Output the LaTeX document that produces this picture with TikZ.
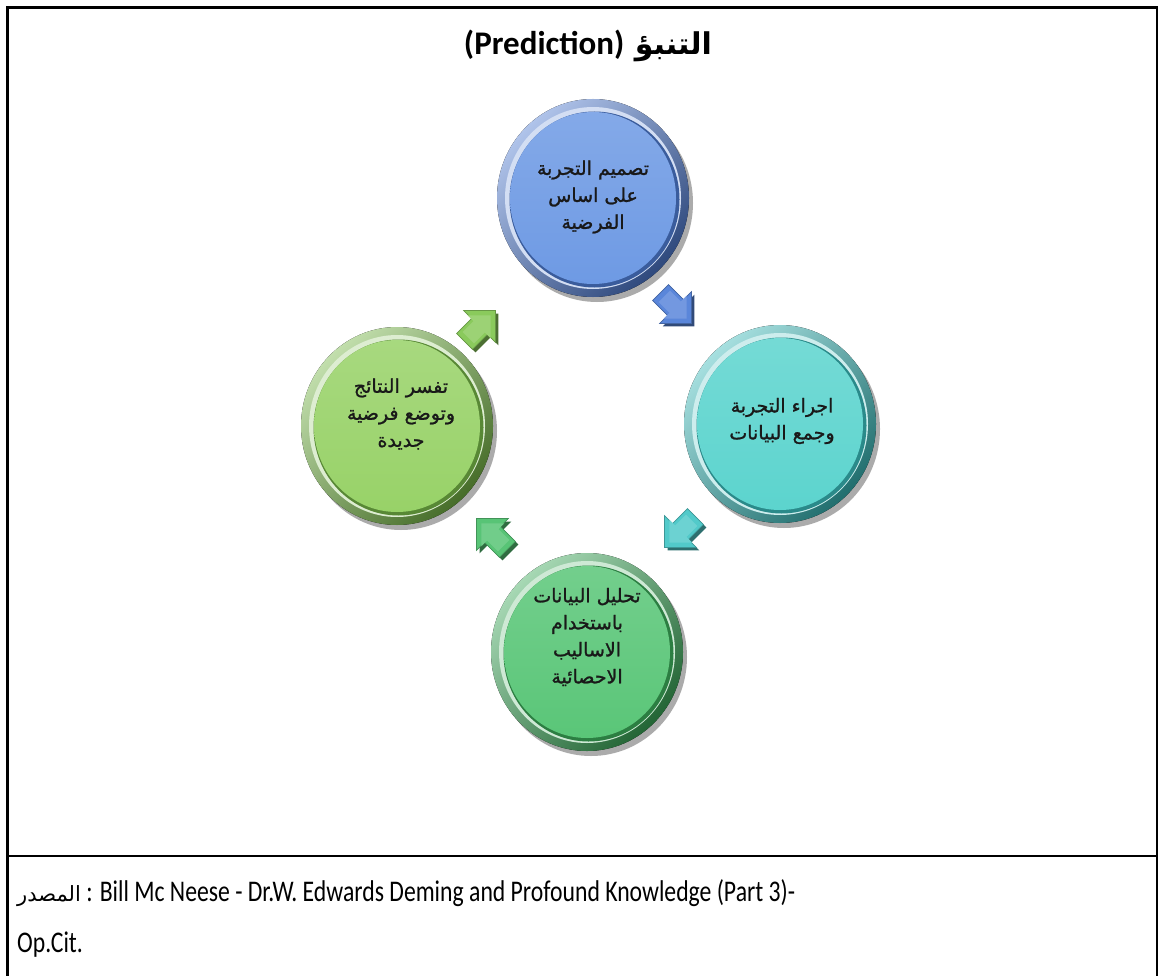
\documentclass[tikz,border=0pt]{standalone}
\usepackage{fontspec}
\usetikzlibrary{shapes.geometric,calc}
\TeXXeTstate=1
\newfontfamily\arabicfont[Script=Arabic]{DejaVu Sans}
\newfontfamily\circlefont[Script=Arabic, FakeBold=1.2]{DejaVu Sans}
\newfontfamily\titlefont{Carlito}
\newfontfamily\footfont[FakeStretch=0.79]{Carlito}
\definecolor{rimB}{RGB}{78,122,208}
\definecolor{faceB}{RGB}{110,154,228}
\definecolor{arrB}{RGB}{90,134,218}
\definecolor{rimT}{RGB}{56,184,184}
\definecolor{faceT}{RGB}{92,212,206}
\definecolor{arrT}{RGB}{82,202,202}
\definecolor{rimG}{RGB}{58,168,88}
\definecolor{faceG}{RGB}{90,198,120}
\definecolor{arrG}{RGB}{88,196,118}
\definecolor{rimL}{RGB}{118,182,70}
\definecolor{faceL}{RGB}{152,210,104}
\definecolor{arrL}{RGB}{138,202,92}
\tikzset{
  frameline/.style={line width=2.5pt, black},
  face/.style={ellipse, minimum width=166pt, minimum height=172pt, inner sep=0pt},
  circtext/.style={align=center, text=black!90, inner sep=0pt,
    font=\circlefont\fontsize{19}{27}\selectfont},
  shadowell/.style={fill=black!60, opacity=0.55},
}
\newcommand{\bubblebase}[2]{%
  \fill[shadowell] ($(#1)+(4,5)$) ellipse [x radius=96pt, y radius=99pt];
  \fill[top color=#2!45!white, bottom color=#2!60!black, shading angle=45]
    (#1) ellipse [x radius=96pt, y radius=99pt];
  \fill[#2!25!white] (#1) ellipse [x radius=88pt, y radius=91pt];
  \fill[#2!75!black] ($(#1)+(1.5,1.5)$) ellipse [x radius=85pt, y radius=88pt];
}
\newcommand{\arrowpath}{(-17,-10) -- (2,-10) -- (2,-20) -- (22,0) -- (2,20) -- (2,10) -- (-17,10) -- cycle}
\newcommand{\blockarrow}[3]{%
  \begin{scope}[shift={#1}, xshift=3pt, yshift=-3pt, rotate=#2, scale=1.12]
    \fill[#3!55!black] \arrowpath;
  \end{scope}
  \begin{scope}[shift={#1}, rotate=#2, scale=1.12]
    \fill[#3, draw=#3!75!black, line width=0.7pt] \arrowpath;
    \fill[#3!85!white, scale=0.72] \arrowpath;
  \end{scope}
}
\begin{document}
\begin{tikzpicture}[x=1pt,y=-1pt]
\useasboundingbox (0,0) rectangle (1158,976);
\fill[white] (0,0) rectangle (1158,976);
% frame
\draw[frameline] (7.5,976) -- (7.5,7.5) -- (1158,7.5);
\draw[frameline] (1157,7.5) -- (1157,976);
\draw[frameline] (7.5,856) -- (1158,856);
% title
\node (title) at (588,46) {\arabicfont\bfseries\fontsize{30}{38}\selectfont\beginR التنبؤ {\titlefont\fontsize{33}{38}\selectfont\beginL(Prediction)\endL}\endR};
% circle centres
\coordinate (cB) at (593,198);
\coordinate (cT) at (780,424);
\coordinate (cG) at (587,652);
\coordinate (cL) at (397,426);
% blue
\bubblebase{cB}{rimB}
\node[face, top color=faceB!85!white, bottom color=faceB] (blue) at (cB) {};
\node[circtext] (tB) at ($(cB)+(0,-1)$)
  {\beginR تصميم التجربة\endR\\ \beginR على اساس\endR\\ \beginR الفرضية\endR};
% teal
\bubblebase{cT}{rimT}
\node[face, top color=faceT!85!white, bottom color=faceT] (teal) at (cT) {};
\node[circtext] (tT) at ($(cT)+(2,-3)$)
  {\beginR اجراء التجربة\endR\\ \beginR وجمع البيانات\endR};
% green
\bubblebase{cG}{rimG}
\node[face, top color=faceG!85!white, bottom color=faceG] (green) at (cG) {};
\node[circtext] (tG) at ($(cG)+(0,-15)$)
  {\beginR تحليل البيانات\endR\\ \beginR باستخدام\endR\\ \beginR الاساليب\endR\\ \beginR الاحصائية\endR};
% light green
\bubblebase{cL}{rimL}
\node[face, top color=faceL!85!white, bottom color=faceL] (lgreen) at (cL) {};
\node[circtext] (tL) at ($(cL)+(4,-12)$)
  {\beginR تفسر النتائج\endR\\ \beginR وتوضع فرضية\endR\\ \beginR جديدة\endR};
% arrows
\blockarrow{(674,306)}{-45}{arrB}
\blockarrow{(682,530)}{-135}{arrT}
\blockarrow{(494,536)}{135}{arrG}
\blockarrow{(478,328)}{45}{arrL}
% footer
\node[anchor=west, inner sep=0pt] (src) at (17,893)
  {\footfont\fontsize{30}{34}\selectfont{\arabicfont\fontsize{21}{30}\selectfont\beginR المصدر\endR} : Bill Mc Neese - Dr.W. Edwards Deming and Profound Knowledge (Part 3)-};
\node[anchor=west, inner sep=0pt] (opcit) at (17,945)
  {\footfont\fontsize{30}{34}\selectfont Op.Cit.};
\end{tikzpicture}
\end{document}
